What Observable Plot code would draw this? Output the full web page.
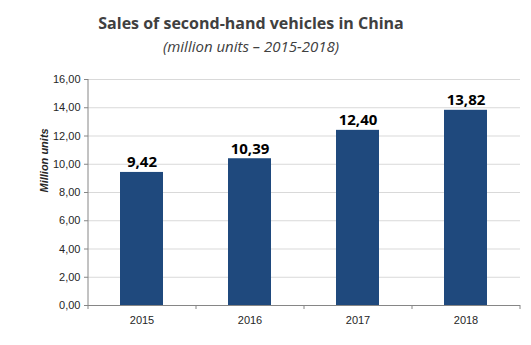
<!DOCTYPE html>
<html><head><meta charset="utf-8">
<script src="https://cdn.jsdelivr.net/npm/d3@7"></script>
<script src="https://cdn.jsdelivr.net/npm/@observablehq/plot@0.6"></script>
<style>
body{margin:0;background:#fff;width:531px;height:345px;overflow:hidden;font-family:"Open Sans",sans-serif;}
#head{height:70px;position:relative;}
#title{position:absolute;left:0;width:502px;top:12px;text-align:center;font-size:16px;font-weight:700;color:#404040;}
#sub{position:absolute;left:0;width:502px;top:36px;text-align:center;font-size:15px;font-style:italic;color:#404040;}
</style></head>
<body>
<div id="head"><div id="title">Sales of second-hand vehicles in China</div><div id="sub">(million units – 2015-2018)</div></div>
<div id="chart"></div>
<script>
const years = ["2015","2016","2017","2018"];
const sales = [9.42, 10.39, 12.40, 13.82];
const yTicks = [0,2,4,6,8,10,12,14,16];
const data = years.map((y,i)=>({year:y, value:sales[i]}));
const fmt = d => d.toFixed(2).replace(".", ",");
const chart = Plot.plot({
  width: 531, height: 275,
  marginLeft: 88, marginRight: 11, marginTop: 9, marginBottom: 40,
  style: {fontFamily: "'Liberation Sans', sans-serif", fontSize: "11px", color: "#262626", background: "#fff"},
  x: {domain: years, paddingInner: 0.6, paddingOuter: 0.3, label: null},
  y: {domain: [0,16], label: null},
  marks: [
    Plot.gridY(yTicks, {stroke: "#d9d9d9", strokeOpacity: 1}),
    Plot.axisY(yTicks, {tickFormat: fmt, tickSize: 4, tickPadding: 4, stroke: "#868686", label: null}),
    Plot.ruleX(years.slice(0,1), {x: d=>d, y1: 0, y2: 16, dx: -54, stroke: "#868686"}),
    Plot.barY(data, {x: "year", y: "value", fill: "#1f497d"}),
    Plot.ruleY([0], {stroke: "#868686"}),
    Plot.axisX({tickSize: 0, tickPadding: 11, label: null}),
    Plot.ruleX(years, {x: d=>d, y1: 0, y2: 0, dx: -54, insetBottom: -4, stroke: "#868686"}),
    Plot.ruleX(years.slice(-1), {x: d=>d, y1: 0, y2: 0, dx: 54, insetBottom: -4, stroke: "#868686"}),
    Plot.text(data, {x: "year", y: "value", text: d=>fmt(d.value), lineAnchor: "bottom", dy: -5, fontWeight: "bold", fontSize: 15, fontFamily: "'Open Sans', sans-serif", fill: "#000"}),
    Plot.text(["Million units"], {frameAnchor: "left", dx: -44, rotate: -90, fontWeight: "bold", fontStyle: "italic", fontSize: 11, fill: "#262626"})
  ]
});
document.getElementById("chart").appendChild(chart);
</script>
</body></html>
